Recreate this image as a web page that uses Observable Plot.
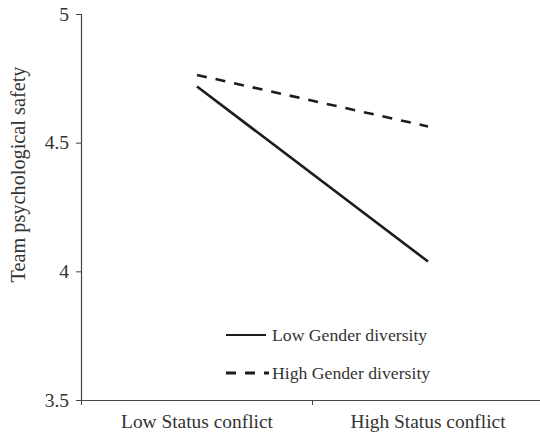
<!DOCTYPE html>
<html>
<head>
<meta charset="utf-8">
<script src="https://cdn.jsdelivr.net/npm/d3@7"></script>
<script src="https://cdn.jsdelivr.net/npm/@observablehq/plot@0.6"></script>
<style>
  html, body { margin: 0; padding: 0; background: #fff; }
  #wrap { position: relative; width: 540px; height: 433px; font-family: "Liberation Serif", "Times New Roman", serif; }
  #legend { position: absolute; left: 226px; top: 0; font-size: 17.7px; color: #333; }
  .item { position: absolute; left: 0; white-space: nowrap; display: flex; align-items: center; }
  .item svg { display: block; }
</style>
</head>
<body>
<div id="wrap"></div>
<script>
// ---- data ----
const categories = ["Low Status conflict", "High Status conflict"];
const seriesNames = ["Low Gender diversity", "High Gender diversity"];
const lowGenderDiversity = [4.72, 4.04];
const highGenderDiversity = [4.765, 4.565];
const yTicks = [3.5, 4, 4.5, 5];
const yLabel = "Team psychological safety";

const dashes = {"Low Gender diversity": null, "High Gender diversity": "10,9"};
const rows = [];
[lowGenderDiversity, highGenderDiversity].forEach((vals, s) => {
  vals.forEach((v, i) => rows.push({series: seriesNames[s], pos: i + 0.5, cat: categories[i], value: v}));
});

const ink = "#333";
const font = "Liberation Serif, Times New Roman, serif";

const plot = Plot.plot({
  width: 540,
  height: 433,
  marginLeft: 81,
  marginTop: 14,
  marginBottom: 33,
  marginRight: 0,
  style: {fontFamily: font, fontSize: "19px", color: ink, background: "white", overflow: "visible"},
  x: {type: "linear", domain: [0, categories.length], range: [81, 543]},
  y: {domain: [3.5, 5], range: [400, 14]},
  marks: [
    // axes lines
    Plot.ruleY([3.5], {stroke: "#444", strokeWidth: 1.2}),
    Plot.ruleX([0], {stroke: "#444", strokeWidth: 1.2}),
    // y axis
    Plot.axisY({ticks: yTicks, tickSize: 5, tickPadding: 7.5, tickFormat: d => String(d), label: null, stroke: "#444", fill: ink, fontSize: 19.5}),
    Plot.text([yLabel], {frameAnchor: "left", textAnchor: "middle", rotate: -90, dx: -63, dy: -33, fill: ink, fontSize: 20.3}),
    // x axis: boundary ticks
    Plot.axisX({ticks: d3.range(categories.length + 1), tickSize: 5, tickFormat: () => "", label: null, stroke: "#444"}),
    // x axis: category labels
    Plot.axisX({ticks: categories.map((c, i) => i + 0.5), tickSize: 0, tickPadding: 13.5,
      tickFormat: d => categories[Math.round(d - 0.5)], label: null, fill: ink, fontSize: 19.4}),
    // series lines
    ...seriesNames.map(name =>
      Plot.line(rows.filter(r => r.series === name), {
        x: "pos", y: "value", stroke: "#1c1c1c", strokeWidth: 2.6,
        strokeDasharray: dashes[name], strokeLinecap: "butt"
      })
    )
  ]
});

const wrap = document.getElementById("wrap");
wrap.appendChild(plot);

// legend overlay
const legend = document.createElement("div");
legend.id = "legend";
const legendY = [335, 373];
seriesNames.forEach((name, i) => {
  const item = document.createElement("div");
  item.className = "item";
  item.style.top = (legendY[i] - 11) + "px";
  item.style.height = "22px";
  const sample = i === 0
    ? `<svg width="40" height="6"><line x1="0" y1="3" x2="40" y2="3" stroke="#1c1c1c" stroke-width="2"/></svg>`
    : `<svg width="43" height="6"><line x1="0" y1="3" x2="43" y2="3" stroke="#1c1c1c" stroke-width="2.8" stroke-dasharray="10,9"/></svg>`;
  item.innerHTML = sample + `<span style="margin-left:${i === 0 ? 6 : 3}px">${name}</span>`;
  legend.appendChild(item);
});
wrap.appendChild(legend);
</script>
</body>
</html>
